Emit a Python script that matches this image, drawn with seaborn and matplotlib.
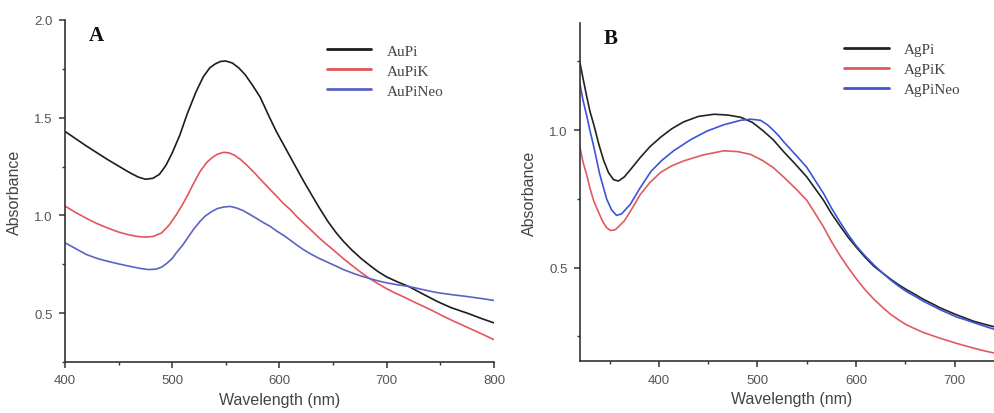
import numpy as np
import pandas as pd
import matplotlib
matplotlib.use("Agg")
import matplotlib.pyplot as plt
from matplotlib.ticker import MultipleLocator
import seaborn as sns

sns.set_style("white")
plt.rcParams['font.family'] = ['Liberation Sans', 'DejaVu Sans']

# ---- panel A : gold samples ----
au_names = ["AuPi", "AuPiK", "AuPiNeo"]
au_colors = ["#1c1c1c", "#e4555a", "#5a63c4"]

aupi_x = [400, 420, 440, 460, 468, 475, 482, 488, 494, 500, 507, 514, 522, 529, 535, 540, 545, 550,
          556, 562, 568, 575, 582, 590, 597, 610, 622, 630, 637, 645, 653, 660, 668, 676, 684, 692,
          700, 710, 721, 734, 747, 760, 775, 788, 800]
aupi_y = [1.43, 1.355, 1.285, 1.22, 1.197, 1.185, 1.19, 1.21, 1.255, 1.32, 1.41, 1.52, 1.63, 1.71, 1.755,
          1.775, 1.788, 1.79, 1.78, 1.755, 1.72, 1.665, 1.605, 1.51, 1.43, 1.30, 1.18, 1.105, 1.04, 0.97,
          0.91, 0.865, 0.82, 0.78, 0.745, 0.712, 0.685, 0.66, 0.635, 0.597, 0.56, 0.528, 0.50, 0.473, 0.45]

aupik_x = [400, 410, 420, 430, 440, 450, 460, 468, 475, 482, 490, 497, 504, 510, 515, 520, 526, 532,
           537, 542, 548, 553, 558, 564, 569, 576, 583, 590, 597, 603, 610, 616, 622, 630, 637, 645,
           653, 660, 668, 676, 684, 692, 700, 707, 715, 727, 740, 750, 760, 770, 780, 790, 800]
aupik_y = [1.048, 1.015, 0.985, 0.958, 0.935, 0.915, 0.90, 0.892, 0.889, 0.892, 0.91, 0.95, 1.005, 1.06,
           1.11, 1.165, 1.225, 1.27, 1.295, 1.313, 1.323, 1.32, 1.308, 1.285, 1.26, 1.222, 1.18, 1.14,
           1.10, 1.065, 1.03, 0.995, 0.963, 0.922, 0.885, 0.847, 0.81, 0.777, 0.742, 0.708, 0.677,
           0.65, 0.625, 0.605, 0.585, 0.553, 0.52, 0.492, 0.465, 0.44, 0.415, 0.39, 0.364]

aupineo_x = [400, 410, 420, 430, 440, 450, 460, 470, 478, 485, 490, 495, 500, 504, 510, 515, 520, 526,
             531, 537, 542, 548, 554, 560, 566, 573, 580, 586, 591, 598, 606, 614, 622, 630, 637, 645,
             653, 660, 668, 676, 684, 692, 700, 710, 721, 734, 747, 760, 775, 788, 800]
aupineo_y = [0.86, 0.83, 0.80, 0.78, 0.765, 0.752, 0.74, 0.729, 0.723, 0.725, 0.735, 0.755, 0.78, 0.81,
             0.85, 0.89, 0.93, 0.97, 0.998, 1.02, 1.035, 1.043, 1.046, 1.038, 1.025, 1.003, 0.98, 0.96,
             0.945, 0.918, 0.89, 0.857, 0.826, 0.80, 0.78, 0.76, 0.74, 0.722, 0.705, 0.69, 0.677,
             0.665, 0.655, 0.645, 0.636, 0.62, 0.605, 0.595, 0.585, 0.575, 0.565]

# ---- panel B : silver samples ----
ag_names = ["AgPi", "AgPiK", "AgPiNeo"]
ag_colors = ["#222222", "#e05a5e", "#3a55d6"]

agpi_x = [320, 323, 327, 330, 334, 339, 344, 349, 354, 359, 365, 372, 381, 391, 402, 413, 425, 440,
          456, 470, 483, 495, 506, 516, 527, 538, 550, 558, 567, 575, 584, 592, 600, 609, 618, 627,
          635, 643, 651, 660, 668, 677, 685, 694, 702, 711, 719, 730, 745]
agpi_y = [1.245, 1.19, 1.12, 1.07, 1.02, 0.95, 0.89, 0.845, 0.82, 0.815, 0.83, 0.86, 0.90, 0.94, 0.975,
          1.005, 1.03, 1.05, 1.058, 1.055, 1.047, 1.028, 0.997, 0.965, 0.92, 0.878, 0.83, 0.79, 0.745,
          0.697, 0.65, 0.61, 0.575, 0.538, 0.505, 0.48, 0.458, 0.438, 0.42, 0.402, 0.385, 0.369,
          0.354, 0.34, 0.328, 0.316, 0.305, 0.294, 0.28]

agpik_x = [320, 323, 327, 330, 334, 339, 343, 347, 351, 356, 365, 372, 381, 391, 402, 413, 425, 445,
           466, 480, 493, 505, 516, 527, 538, 550, 558, 567, 575, 584, 592, 600, 609, 618, 627, 635,
           643, 651, 660, 668, 677, 685, 694, 702, 711, 719, 730, 745]
agpik_y = [0.938, 0.885, 0.835, 0.79, 0.742, 0.70, 0.668, 0.645, 0.635, 0.638, 0.67, 0.71, 0.765, 0.81,
           0.847, 0.87, 0.888, 0.91, 0.925, 0.922, 0.912, 0.89, 0.864, 0.828, 0.79, 0.745, 0.70, 0.648,
           0.595, 0.542, 0.50, 0.46, 0.42, 0.385, 0.355, 0.33, 0.31, 0.292, 0.277, 0.264, 0.253,
           0.243, 0.233, 0.224, 0.215, 0.207, 0.197, 0.185]

agpineo_x = [320, 323, 327, 330, 334, 340, 347, 352, 357, 362, 371, 381, 392, 403, 415, 432, 449, 466,
             483, 493, 503, 510, 516, 522, 527, 538, 550, 558, 567, 575, 584, 592, 600, 609, 618, 627,
             635, 643, 651, 660, 668, 677, 685, 694, 702, 711, 719, 730, 745]
agpineo_y = [1.168, 1.11, 1.05, 1.0, 0.94, 0.84, 0.75, 0.71, 0.69, 0.695, 0.73, 0.79, 0.85, 0.89, 0.925,
             0.965, 0.997, 1.02, 1.036, 1.04, 1.036, 1.02, 1.0, 0.978, 0.956, 0.913, 0.865, 0.82, 0.77,
             0.717, 0.664, 0.62, 0.58, 0.543, 0.51, 0.48, 0.455, 0.433, 0.413, 0.395, 0.378, 0.362,
             0.347, 0.333, 0.32, 0.31, 0.30, 0.287, 0.27]


def make_df(xs, ys, names):
    parts = []
    for x, y, n in zip(xs, ys, names):
        parts.append(pd.DataFrame({"wl": x, "abs": y, "sample": n}))
    return pd.concat(parts, ignore_index=True)


def style_axis(ax, letter, legend_anchor):
    for s in ["top", "right"]:
        ax.spines[s].set_visible(False)
    for s in ["left", "bottom"]:
        ax.spines[s].set_color("#333333")
        ax.spines[s].set_linewidth(1.2)
    ax.tick_params(which="both", bottom=True, left=True, top=False, right=False)
    ax.tick_params(which="major", direction="out", length=4, width=1.1, color="#333333",
                   labelsize=9.5, labelcolor="#555555", pad=5)
    ax.tick_params(which="minor", direction="out", length=2.5, width=1.0, color="#333333")
    ax.set_xlabel("Wavelength (nm)", fontsize=11.5, color="#444444", labelpad=4)
    ax.set_ylabel("Absorbance", fontsize=11.5, color="#444444", labelpad=9)
    ax.text(0.055, 0.955, letter, transform=ax.transAxes, fontsize=15, fontweight="bold",
            family=["Liberation Serif", "DejaVu Serif"], va="center", ha="left", color="#111111")
    leg = ax.legend(frameon=False, loc="upper left", bbox_to_anchor=legend_anchor,
                    bbox_transform=ax.figure.transFigure, borderpad=0, handlelength=2.9,
                    handletextpad=1.0, labelspacing=0.42,
                    prop={"family": ["Liberation Serif", "DejaVu Serif"], "size": 11})
    for line in leg.get_lines():
        line.set_linewidth(2.0)
    for t in leg.get_texts():
        t.set_color("#444444")


fig = plt.figure(figsize=(9.95, 4.14), dpi=100)
axA = fig.add_axes([0.0653, 0.1232, 0.4312, 0.8261])
axB = fig.add_axes([0.5829, 0.1256, 0.4261, 0.8164])

dfA = make_df([aupi_x, aupik_x, aupineo_x], [aupi_y, aupik_y, aupineo_y], au_names)
sns.lineplot(data=dfA, x="wl", y="abs", hue="sample", hue_order=au_names,
             palette=au_colors, linewidth=1.2, ax=axA)
axA.set_xlim(400, 800)
axA.set_ylim(0.25, 2.0)
axA.xaxis.set_major_locator(MultipleLocator(100))
axA.xaxis.set_minor_locator(MultipleLocator(50))
axA.yaxis.set_major_locator(MultipleLocator(0.5))
axA.yaxis.set_minor_locator(MultipleLocator(0.25))
style_axis(axA, "A", (0.321, 0.91))

dfB = make_df([agpi_x, agpik_x, agpineo_x], [agpi_y, agpik_y, agpineo_y], ag_names)
sns.lineplot(data=dfB, x="wl", y="abs", hue="sample", hue_order=ag_names,
             palette=ag_colors, linewidth=1.2, ax=axB)
axB.set_xlim(320, 750)
axB.set_ylim(0.16, 1.39)
axB.xaxis.set_major_locator(MultipleLocator(100))
axB.xaxis.set_minor_locator(MultipleLocator(50))
axB.yaxis.set_major_locator(MultipleLocator(0.5))
axB.yaxis.set_minor_locator(MultipleLocator(0.25))
style_axis(axB, "B", (0.841, 0.914))

fig.savefig("out.png", dpi=100)
